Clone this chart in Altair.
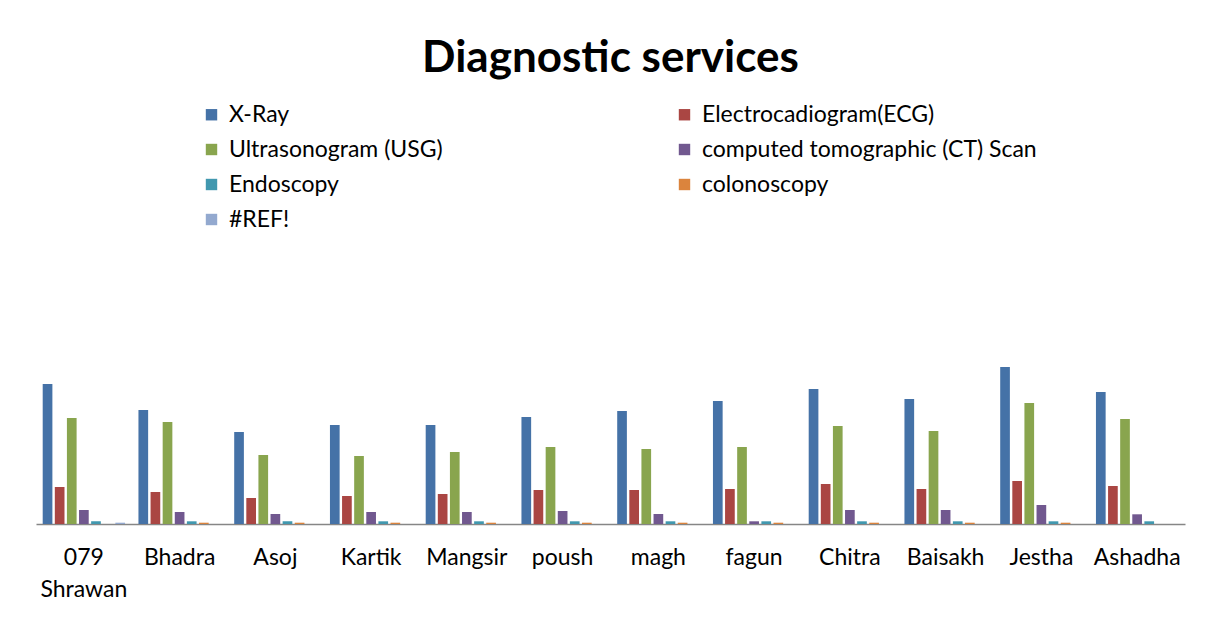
import altair as alt
import pandas as pd

months = ["079 Shrawan", "Bhadra", "Asoj", "Kartik", "Mangsir", "poush",
          "magh", "fagun", "Chitra", "Baisakh", "Jestha", "Ashadha"]
series = ["X-Ray", "Electrocadiogram(ECG)", "Ultrasonogram (USG)",
          "computed tomographic (CT) Scan", "Endoscopy", "colonoscopy", "#REF!"]
colors = ["#4572A7", "#AA4643", "#89A54E", "#71588F", "#4198AF", "#DB843D", "#93A9CF"]

xray = [1400, 1140, 920, 990, 990, 1070, 1130, 1230, 1350, 1250, 1570, 1320]
ecg = [370, 320, 260, 280, 300, 340, 340, 350, 400, 350, 430, 380]
usg = [1060, 1020, 690, 680, 720, 770, 750, 770, 980, 930, 1210, 1050]
ct = [140, 120, 100, 120, 120, 130, 100, 27, 140, 140, 190, 97]
endo = [27, 27, 27, 27, 27, 27, 27, 27, 27, 27, 27, 27]
colono = [0, 13, 13, 13, 13, 13, 13, 13, 13, 13, 13, 0]
ref = [13, 0, 0, 0, 0, 0, 0, 0, 0, 0, 0, 0]

values = [xray, ecg, usg, ct, endo, colono, ref]
rows = []
for s, vals in zip(series, values):
    for m, v in zip(months, vals):
        rows.append({"month": m, "service": s, "count": v})
df = pd.DataFrame(rows)

# legend fills column by column: order the colour domain so it reads row by row
legend_idx = [0, 2, 4, 6, 1, 3, 5]
legend_domain = [series[i] for i in legend_idx]
legend_range = [colors[i] for i in legend_idx]

FONT = "Lato"

chart = alt.Chart(df).mark_bar().encode(
    x=alt.X("month:N", sort=months,
            scale=alt.Scale(paddingInner=0.14, paddingOuter=0.07),
            axis=alt.Axis(title=None, ticks=False, labelAngle=0,
                          domainColor="#868686", domainWidth=1.5,
                          labelFont=FONT, labelFontSize=23, labelColor="black",
                          labelPadding=22, labelLineHeight=32,
                          labelExpr="datum.value == '079 Shrawan' ? ['079', 'Shrawan'] : datum.value")),
    xOffset=alt.XOffset("service:N", sort=series, scale=alt.Scale(paddingInner=0.2)),
    y=alt.Y("count:Q", scale=alt.Scale(domain=[0, 4290], nice=False), axis=None),
    color=alt.Color("service:N",
                    scale=alt.Scale(domain=legend_domain, range=legend_range),
                    legend=alt.Legend(title=None, orient="none", legendX=164, legendY=8,
                                      columns=2, symbolType="square", symbolSize=130,
                                      symbolStrokeWidth=0, labelFont=FONT, labelFontSize=23,
                                      labelColor="black", labelLimit=600, rowPadding=11,
                                      columnPadding=230, labelOffset=6, padding=0)),
).properties(
    width=1149, height=429,
    title=alt.Title("Diagnostic services", font=FONT, fontSize=44, fontWeight="bold",
                    color="black", anchor="middle", offset=14),
    autosize=alt.AutoSizeParams(type="none"),
    padding={"left": 28, "top": 87, "right": 21, "bottom": 80},
).configure_view(stroke=None)

chart.save("out.html", embed_options={"renderer": "svg", "actions": False})
